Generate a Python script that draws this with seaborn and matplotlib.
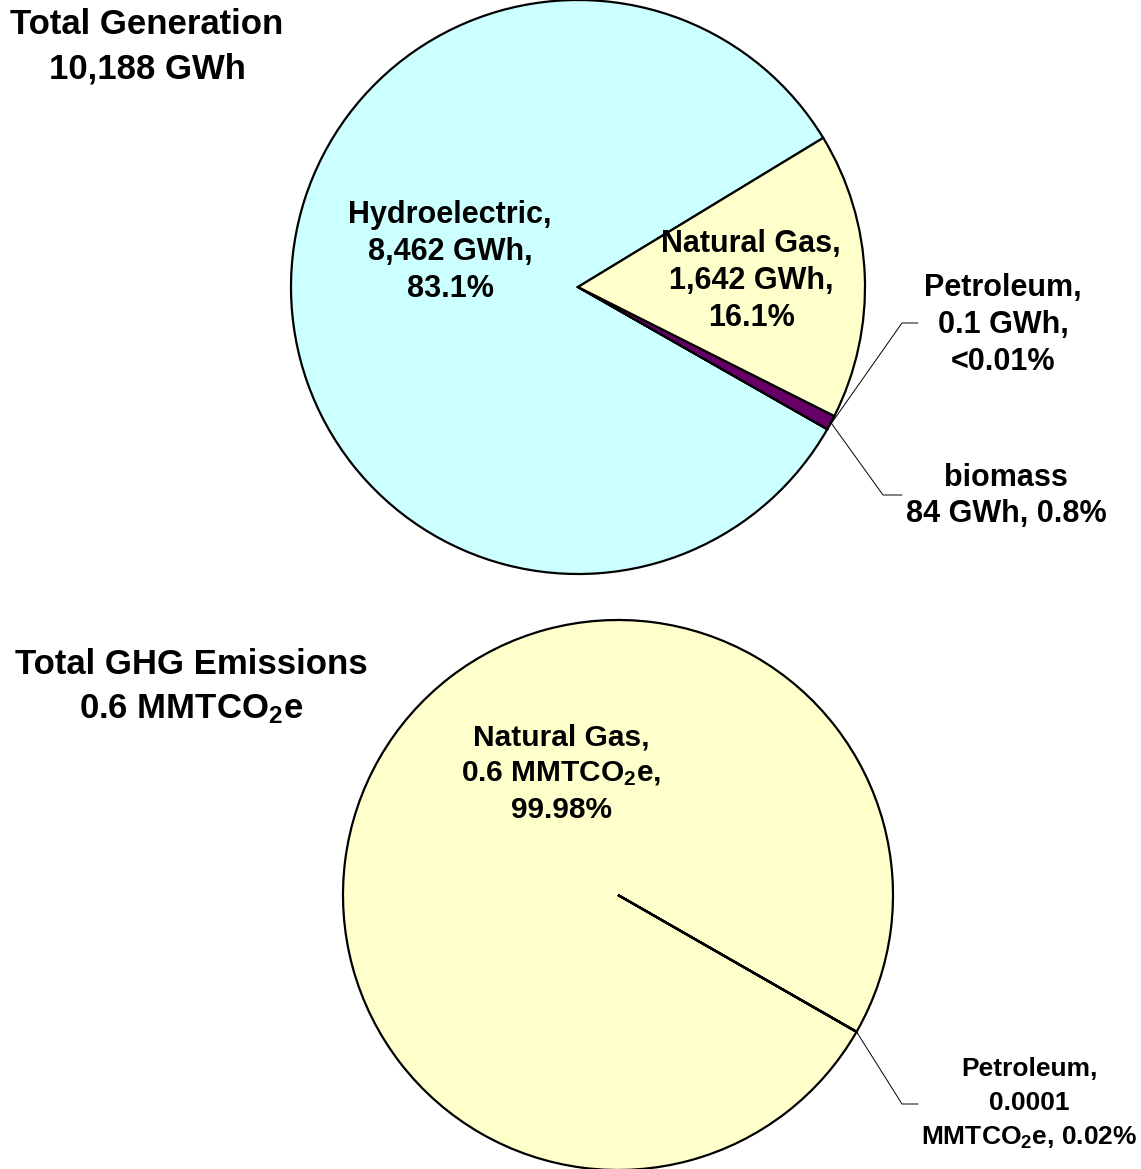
import numpy as np
import matplotlib
matplotlib.use("Agg")
import matplotlib.pyplot as plt
import seaborn as sns

# Electricity generation by fuel (GWh)
gen_sources = ["Hydroelectric", "Petroleum", "biomass", "Natural Gas"]
gen_values = [8462, 0.1, 84, 1642]
gen_colors = ["#CCFFFF", "#FFFFFF", "#660066", "#FFFFCC"]
gen_total_label = "10,188 GWh"

# Greenhouse-gas emissions by fuel (MMTCO2e)
ghg_sources = ["Natural Gas", "Petroleum"]
ghg_values = [0.6, 0.0001]
ghg_colors = ["#FFFFCC", "#FFFFCC"]
ghg_total_label = "0.6 MMTCO$_\\mathbf{2}$e"

sns.set_theme(style="white")
plt.rcParams["font.family"] = ["Liberation Sans", "DejaVu Sans"]
plt.rcParams["mathtext.fontset"] = "custom"
plt.rcParams["mathtext.rm"] = "Liberation Sans:bold"
plt.rcParams["mathtext.bf"] = "Liberation Sans:bold"
plt.rcParams["mathtext.it"] = "Liberation Sans:bold"

W, H = 1141, 1169
fig = plt.figure(figsize=(W / 100, H / 100), dpi=100)
fig.patch.set_facecolor("white")


def pie_axes(cx, cy, r):
    """Square axes (pixel geometry) holding a unit-radius pie."""
    ax = fig.add_axes([(cx - r) / W, (H - cy - r) / H, 2 * r / W, 2 * r / H])
    ax.set_xlim(-1, 1)
    ax.set_ylim(-1, 1)
    ax.axis("off")
    return ax


def edge_point(wedge, r=1.0):
    mid = np.deg2rad((wedge.theta1 + wedge.theta2) / 2)
    return r * np.cos(mid), r * np.sin(mid)


fmt_pct = lambda v, tot: 100 * v / tot
bold = dict(fontweight="bold", color="black", ha="center", va="center")
wp = dict(edgecolor="black", linewidth=1.6)

# ---------------- generation pie ----------------
R1, C1 = 287, (578, 287)
ax1 = pie_axes(C1[0], C1[1], R1)
w1, _ = ax1.pie(gen_values, colors=gen_colors, startangle=31.3,
                counterclock=True, radius=1, wedgeprops=wp)
ax1.set_xlim(-1, 1)
ax1.set_ylim(-1, 1)
gtot = sum(gen_values)

def p1(px, py):
    return (px - C1[0]) / R1, (C1[1] - py) / R1

ax1.text(*p1(450, 252),
         f"{gen_sources[0]},\n{gen_values[0]:,} GWh,\n{fmt_pct(gen_values[0], gtot):.1f}%",
         fontsize=22, linespacing=1.3, **bold)
ax1.text(*p1(751, 281),
         f"{gen_sources[3]},\n{gen_values[3]:,} GWh,\n{fmt_pct(gen_values[3], gtot):.1f}%",
         fontsize=22, linespacing=1.3, **bold)
ax1.text(*p1(1003, 325),
         f"{gen_sources[1]},\n{gen_values[1]} GWh,\n<0.01%",
         fontsize=22, linespacing=1.3, **bold)
ax1.text(*p1(1006, 496),
         f"{gen_sources[2]}\n{gen_values[2]} GWh, {fmt_pct(gen_values[2], gtot):.1f}%",
         fontsize=22, linespacing=1.3, **bold)

# leader lines for the two thin wedges
x0, y0 = edge_point(w1[1])
(bx, by), (ex, ey) = p1(902, 323), p1(918, 323)
ax1.plot([x0, bx, ex], [y0, by, ey], color="black", lw=0.7, clip_on=False)
x0, y0 = edge_point(w1[2])
(bx, by), (ex, ey) = p1(883, 495), p1(902, 495)
ax1.plot([x0, bx, ex], [y0, by, ey], color="black", lw=0.7, clip_on=False)

fig.text(147 / W, 1 - 47 / H, f"Total Generation\n{gen_total_label}",
         fontsize=25, linespacing=1.45, **bold)

# ---------------- emissions pie ----------------
R2, C2 = 275, (618, 895)
ax2 = pie_axes(C2[0], C2[1], R2)
w2, _ = ax2.pie(ghg_values, colors=ghg_colors, startangle=-29.8,
                counterclock=True, radius=1, wedgeprops=wp)
ax2.set_xlim(-1, 1)
ax2.set_ylim(-1, 1)
etot = sum(ghg_values)

def p2(px, py):
    return (px - C2[0]) / R2, (C2[1] - py) / R2

ax2.text(*p2(561, 774),
         f"{ghg_sources[0]},\n{ghg_values[0]} MMTCO$_\\mathbf{{2}}$e,\n{fmt_pct(ghg_values[0], etot):.2f}%",
         fontsize=21.5, linespacing=1.36, **bold)
ax2.text(*p2(1029, 1104),
         f"{ghg_sources[1]},\n{ghg_values[1]:.4f}\nMMTCO$_\\mathbf{{2}}$e, {fmt_pct(ghg_values[1], etot):.2f}%",
         fontsize=19, linespacing=1.5, **bold)
x0, y0 = edge_point(w2[1])
(bx, by), (ex, ey) = p2(902, 1104), p2(918, 1104)
ax2.plot([x0, bx, ex], [y0, by, ey], color="black", lw=0.7, clip_on=False)

fig.text(191 / W, 1 - 687 / H, f"Total GHG Emissions\n{ghg_total_label}",
         fontsize=25, linespacing=1.45, **bold)

fig.savefig("out.png", dpi=100, facecolor="white")
